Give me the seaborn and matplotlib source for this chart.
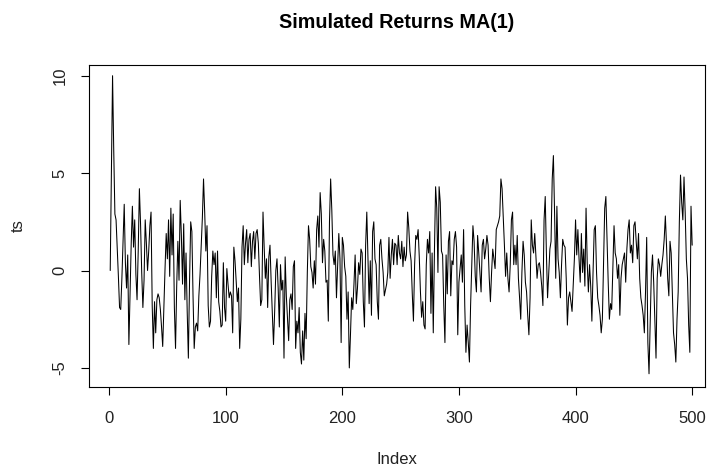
import numpy as np
import pandas as pd
import seaborn as sns
import matplotlib.pyplot as plt

# Simulated MA(1) returns, one value per time step (Index 1..500)
ts = [
    0.0, 5.0, 10.0, 6.2, 2.9, 2.6, 1.2, -0.3, -1.9, -2.0,
    -0.4, 1.5, 3.4, 0.4, -0.9, 0.8, -3.8, -1.2, 1.4, 3.3,
    1.2, 2.6, -0.2, -1.5, 1.0, 4.2, 2.4, -0.1, -1.9, -0.5,
    2.6, 1.4, 0.0, 1.0, 2.3, 3.0, -1.8, -4.0, -1.6, -3.2,
    -1.5, -1.2, -1.4, -2.0, -2.9, -3.9, -1.8, 0.1, 1.9, 0.6,
    2.6, -0.3, 3.2, 0.8, 2.9, -1.9, -4.0, -0.8, 1.5, -0.5,
    3.6, 1.8, -0.7, 2.4, -1.5, 0.9, -2.1, -4.5, -0.6, 2.5,
    2.0, -1.3, -4.0, -2.9, -2.7, -3.1, -1.3, -0.2, 1.2, 2.7,
    4.7, 3.0, 1.0, 2.3, -1.8, -2.9, -2.6, -0.3, 1.0, 0.3,
    0.9, -1.4, 1.0, -1.6, -2.1, -2.9, -2.8, 0.4, -1.9, -2.6,
    0.1, -0.7, -1.4, -1.1, -1.3, -3.2, 1.2, 0.5, -0.6, -1.6,
    -0.9, -4.0, -2.5, 1.2, 2.3, 0.3, 1.4, 2.1, 0.4, 1.6,
    1.9, 0.2, 1.5, 2.0, 0.6, 1.9, 2.1, 1.4, -0.3, -1.8,
    -1.5, 3.0, 1.2, -0.4, 0.6, -1.9, 0.7, 1.3, -0.6, -2.2,
    -3.8, -2.1, 0.0, 0.6, -0.9, -2.9, 0.3, -1.0, -0.5, -4.5,
    0.7, -1.3, -2.4, -3.6, -1.5, -1.2, -2.0, 0.2, 0.5, -4.0,
    -2.6, -3.2, -1.9, -4.2, -4.8, -3.1, -4.6, -2.2, -3.5, -0.1,
    2.3, 1.6, 0.2, -0.1, -0.9, 0.5, -0.7, 2.1, 2.8, 1.2,
    4.0, 2.9, 0.4, 1.6, 1.0, -0.6, -0.5, -2.6, 2.5, 4.7,
    3.1, 0.8, 0.3, 1.0, -1.4, 0.2, 1.9, 0.6, -3.7, 1.7,
    1.3, 0.2, -0.3, -2.5, -1.1, -5.0, -3.3, -1.4, -2.0, -0.7,
    0.8, -1.7, -0.9, 0.4, -0.2, 1.1, 0.9, -1.6, -2.9, 1.3,
    3.0, 0.6, -1.7, 0.5, -2.3, 2.0, 2.5, 0.6, 0.3, -1.6,
    -2.5, 1.3, 1.6, 0.6, -0.1, -1.3, -1.0, -0.7, -0.1, 1.7,
    -0.4, 0.8, 1.6, 0.3, 1.4, 1.3, 0.3, 1.8, 0.9, 0.6,
    1.5, 0.2, 1.2, 0.5, 0.8, 3.0, 2.2, 1.0, 0.5, -1.2,
    -2.6, 0.3, 1.8, 1.6, 2.1, 0.7, -1.1, -2.4, -1.6, -2.8,
    -3.0, 0.3, 1.6, 0.9, 2.0, -2.2, 0.9, -3.2, 1.0, 4.3,
    3.2, -0.1, 4.3, 3.5, 1.0, 0.8, -1.8, -3.7, 0.8, -1.2,
    1.5, 2.0, -1.3, 0.5, 0.3, 1.6, 2.0, 1.2, -3.3, -0.6,
    0.1, 0.8, -0.6, 2.1, -1.8, -4.2, -2.8, -3.7, -4.7, -1.8,
    0.3, 2.3, 1.5, -0.3, -1.1, 1.8, 0.9, -0.1, -1.1, 1.3,
    1.6, 0.6, 1.1, 1.8, 1.3, -0.4, -1.6, -0.1, 1.1, 0.6,
    0.1, 2.1, 2.3, 2.5, 2.8, 4.7, 4.2, 2.8, 1.3, -0.3,
    0.9, -0.4, -1.1, 0.3, 2.6, 3.0, 0.3, 1.3, 0.3, 1.8,
    -0.4, -1.4, -2.5, -0.1, 1.5, 0.8, -0.6, -1.1, -2.3, -3.3,
    -1.4, 2.6, 1.3, 0.9, 1.9, 0.8, -0.4, 0.3, 0.4, -0.1,
    -0.8, -1.8, 2.6, 3.8, 0.9, -1.4, -0.1, 1.1, 1.5, 4.7,
    5.9, 3.0, -0.4, 3.3, 0.6, -0.1, -1.4, 0.3, 1.6, 1.3,
    1.2, -0.4, -2.8, -1.4, -1.1, -1.6, -2.1, -0.8, 0.6, 2.6,
    0.8, 2.1, 0.6, -0.6, 1.9, -0.1, 1.1, -0.8, 3.2, 0.4,
    -1.1, 0.3, -0.8, -2.6, -0.1, 2.1, 2.3, -0.1, -1.4, -1.8,
    -2.3, -3.2, -2.5, 0.3, 3.2, 3.8, 1.6, -0.6, -2.5, -1.7,
    -2.0, 0.1, 2.3, 0.9, 0.6, -0.4, 0.3, -2.3, -0.4, 0.3,
    0.6, 0.9, -0.6, 1.1, 2.1, 2.6, 0.9, 1.3, 0.4, 2.3,
    2.5, 1.5, 0.6, 1.9, -0.4, -1.4, -1.8, -2.3, -3.2, -1.1,
    1.7, -3.7, -5.3, -2.8, -0.1, 0.8, -0.6, -2.5, -4.5, -0.4,
    0.6, 0.3, -0.3, 0.3, 0.8, 1.6, 2.8, 1.3, -0.4, -1.3,
    1.5, 0.9, -1.1, -3.2, -3.8, -4.7, -2.5, -1.1, 2.5, 4.9,
    3.5, 2.6, 4.8, 3.0, 0.6, -0.4, -2.8, -4.2, 3.3, 1.3,
]
index = list(range(1, len(ts) + 1))

x_ticks = [0, 100, 200, 300, 400, 500]
y_ticks = [-5, 0, 5, 10]

title = "Simulated Returns MA(1)"
x_label = "Index"
y_label = "ts"

sns.set_theme(style="white")
plt.rcParams["font.family"] = ["Liberation Sans", "DejaVu Sans"]

fig = plt.figure(figsize=(7.07, 4.68), dpi=100)
W, H = 707, 468
left, right, top, bottom = 89, 705, 65, 387
ax = fig.add_axes([left / W, 1 - bottom / H, (right - left) / W, (bottom - top) / H])

df = pd.DataFrame({"Index": index, "ts": ts})
sns.lineplot(data=df, x="Index", y="ts", color="black", linewidth=0.75, ax=ax)

ax.set_xlim(-17.2, 511)
ax.set_ylim(-5.98, 10.55)
ax.set_xticks(x_ticks)
ax.set_yticks(y_ticks)
ax.set_xticklabels([str(v) for v in x_ticks])
ax.set_yticklabels([str(v) for v in y_ticks])

for s in ax.spines.values():
    s.set_visible(True)
    s.set_color("black")
    s.set_linewidth(0.8)

ax.tick_params(axis="both", direction="out", length=5.5, width=0.8, color="black",
               labelsize=12, labelcolor="#222222", bottom=True, left=True)
ax.tick_params(axis="x", pad=12)
ax.tick_params(axis="y", pad=10, labelrotation=90)
for lab in ax.get_yticklabels():
    lab.set_va("center")

ax.set_xlabel(x_label, fontsize=12, color="#222222")
ax.set_ylabel(y_label, fontsize=12, color="#222222")
ax.xaxis.set_label_coords(0.5, (bottom - 460) / (bottom - top))
ax.xaxis.label.set_va("center")
ax.yaxis.set_label_coords((18 - left) / (right - left), 0.5)
ax.yaxis.label.set_va("center")

fig.text((left + right) / 2 / W, 1 - 23 / H, title, ha="center", va="center",
         fontsize=14.2, fontweight="bold", color="black")

fig.savefig("out.png", dpi=100)
